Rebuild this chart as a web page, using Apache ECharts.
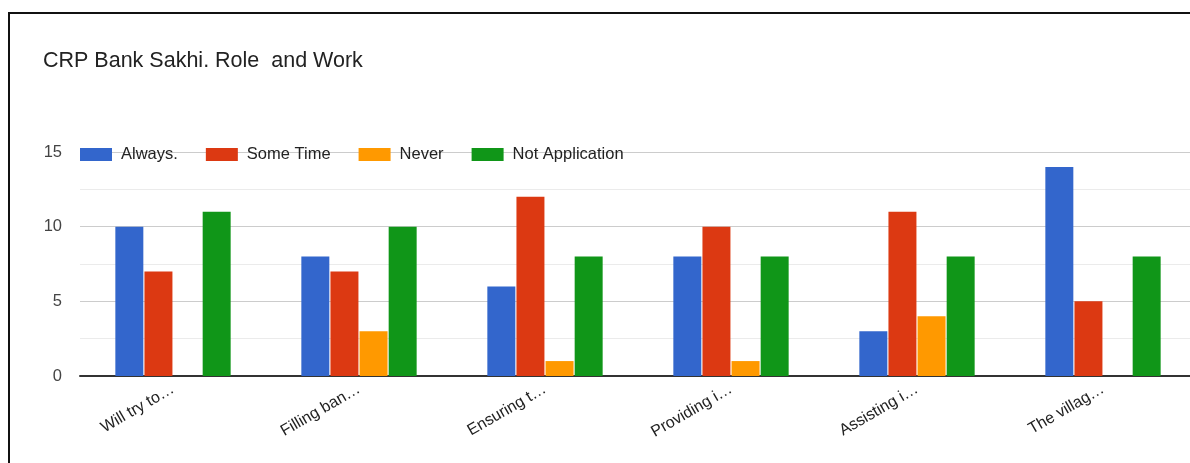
<!DOCTYPE html>
<html>
<head>
<meta charset="utf-8">
<script src="https://cdn.jsdelivr.net/npm/echarts@6/dist/echarts.min.js"></script>
<style>
  html, body { margin: 0; padding: 0; background: #ffffff; }
  /* the plot runs a little past the right edge, so the view window clips it */
  #view { position: relative; width: 1190px; height: 463px; overflow: hidden; }
  #chart { position: absolute; left: 0; top: 0; width: 1200px; height: 463px; }
</style>
</head>
<body>
<div id="view"><div id="chart"></div></div>
<script>
// Survey answers per activity of the CRP Bank Sakhi
const categories = ['Will try to…', 'Filling ban…', 'Ensuring t…', 'Providing i…', 'Assisting i…', 'The villag…'];
const always = [10, 8, 6, 8, 3, 14];
const someTime = [7, 7, 12, 10, 11, 5];
const never = [0, 3, 1, 1, 4, 0];
const notApplication = [11, 10, 8, 8, 8, 8];
const seriesNames = ['Always.', 'Some Time', 'Never', 'Not Application'];
const seriesColors = ['#3366cc', '#dc3912', '#ff9900', '#109618'];
const yTicks = [0, 5, 10, 15];

const FONT = '"Liberation Sans", Arial, sans-serif';
const chart = echarts.init(document.getElementById('chart'), null, { renderer: 'canvas' });

const values = [always, someTime, never, notApplication];
const series = values.map((data, i) => ({
  name: seriesNames[i],
  type: 'bar',
  data: data,
  barGap: '4%',
  barCategoryGap: '38%',
  itemStyle: { color: seriesColors[i] },
  emphasis: { disabled: true }
}));

chart.setOption({
  animation: false,
  backgroundColor: '#ffffff',
  title: {
    text: 'CRP Bank Sakhi. Role  and Work',
    left: 38,
    top: 45,
    textStyle: { fontFamily: FONT, fontSize: 21.5, fontWeight: 'normal', color: '#222222' }
  },
  legend: {
    data: seriesNames,
    left: 80,
    top: 146,
    padding: 0,
    itemWidth: 32,
    itemHeight: 13,
    itemGap: 28,
    icon: 'rect',
    textStyle: { fontFamily: FONT, fontSize: 16.5, color: '#222222', padding: [0, 0, 0, 4] }
  },
  grid: { left: 80, top: 152, width: 1116, height: 224, containLabel: false },
  xAxis: {
    type: 'category',
    data: categories,
    axisTick: { show: false },
    axisLine: { show: true, lineStyle: { color: '#333333', width: 2 } },
    axisLabel: {
      rotate: 30,
      margin: 12,
      fontFamily: FONT,
      fontSize: 16,
      color: '#222222'
    },
    splitLine: { show: false }
  },
  yAxis: {
    type: 'value',
    min: yTicks[0],
    max: yTicks[yTicks.length - 1],
    interval: 5,
    axisLine: { show: false },
    axisTick: { show: false },
    axisLabel: {
      margin: 18,
      fontFamily: FONT,
      fontSize: 16.5,
      color: '#444444',
      formatter: v => (yTicks.includes(v) ? String(v) : '')
    },
    splitLine: { show: true, lineStyle: { color: '#cccccc', width: 1 } },
    minorTick: { show: false, splitNumber: 2 },
    minorSplitLine: { show: true, lineStyle: { color: '#ebebeb', width: 1 } }
  },
  graphic: [{
    type: 'rect',
    z: 100,
    shape: { x: 9, y: 13, width: 1300, height: 600 },
    style: { fill: 'none', stroke: '#111111', lineWidth: 2 }
  }],
  series: series
});
</script>
</body>
</html>
